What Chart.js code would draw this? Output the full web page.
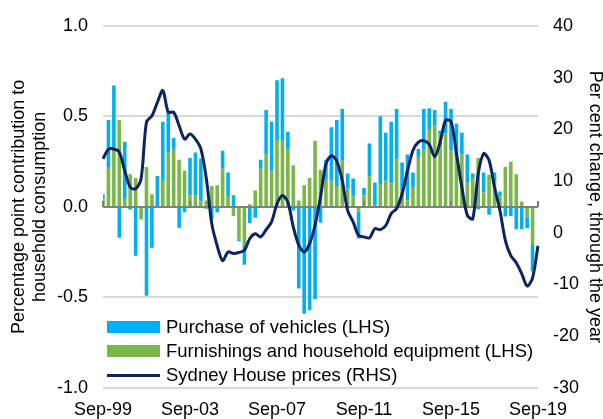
<!DOCTYPE html>
<html><head><meta charset="utf-8">
<script src="https://cdn.jsdelivr.net/npm/chart.js@4.4.1/dist/chart.umd.min.js"></script>
<style>
html,body{margin:0;padding:0;background:#fff;}
#wrap{position:relative;width:603px;height:419px;overflow:hidden;}
canvas{position:absolute;left:0;top:0;}
.leg{position:absolute;left:107px;height:24px;display:flex;align-items:center;font-family:"Liberation Sans",Arial,sans-serif;font-size:18.5px;color:#000;white-space:nowrap;}
.sw{width:53px;height:12px;margin-right:6px;flex:none;}
.ln{width:53px;height:3px;margin-right:6px;flex:none;}
</style></head><body>
<div id="wrap"><canvas id="c" width="603" height="419"></canvas>
<div class="leg" style="top:315px"><div class="sw" style="background:#00B0F0"></div>Purchase of vehicles (LHS)</div>
<div class="leg" style="top:339px"><div class="sw" style="background:#7AB648"></div>Furnishings and household equipment (LHS)</div>
<div class="leg" style="top:363px"><div class="ln" style="background:#0C2461"></div>Sydney House prices (RHS)</div>
</div>
<script>
const quarters = ['Sep-99','Dec-99',
'Mar-00','Jun-00','Sep-00','Dec-00','Mar-01','Jun-01','Sep-01','Dec-01',
'Mar-02','Jun-02','Sep-02','Dec-02','Mar-03','Jun-03','Sep-03','Dec-03',
'Mar-04','Jun-04','Sep-04','Dec-04','Mar-05','Jun-05','Sep-05','Dec-05',
'Mar-06','Jun-06','Sep-06','Dec-06','Mar-07','Jun-07','Sep-07','Dec-07',
'Mar-08','Jun-08','Sep-08','Dec-08','Mar-09','Jun-09','Sep-09','Dec-09',
'Mar-10','Jun-10','Sep-10','Dec-10','Mar-11','Jun-11','Sep-11','Dec-11',
'Mar-12','Jun-12','Sep-12','Dec-12','Mar-13','Jun-13','Sep-13','Dec-13',
'Mar-14','Jun-14','Sep-14','Dec-14','Mar-15','Jun-15','Sep-15','Dec-15',
'Mar-16','Jun-16','Sep-16','Dec-16','Mar-17','Jun-17','Sep-17','Dec-17',
'Mar-18','Jun-18','Sep-18','Dec-18','Mar-19','Jun-19','Sep-19'];

const xTickLabels = ['Sep-99','Sep-03','Sep-07','Sep-11','Sep-15','Sep-19'];
const leftTicks = [-1.0,-0.5,0.0,0.5,1.0];
const rightTicks = [-30,-20,-10,0,10,20,30,40];

const furnishings = [0.055,0.22,0.33,0.48,0.04,0.18,0.16,-0.07,0.22,0.07,
0.0,0.145,0.30,0.32,0.26,0.20,0.065,0.065,0.03,0.035,
0.115,0.12,0.21,0.06,-0.05,-0.18,-0.21,0.015,0.09,0.21,
0.29,0.20,0.37,0.365,0.315,0.23,0.035,0.12,0.16,0.365,
0.205,0.15,0.145,0.115,0.255,0.10,0.057,-0.025,0.065,0.17,
0.01,0.127,0.145,0.13,0.263,0.09,0.035,0.11,0.275,0.315,
0.43,0.45,0.40,0.405,0.31,0.27,0.29,0.13,0.16,0.27,
0.08,0.177,0.14,0.057,0.22,0.25,0.18,0.03,-0.053,-0.21,
null];

const vehicles = [0.015,0.26,0.34,-0.17,0.32,-0.015,-0.27,0,-0.49,-0.225,
0.17,0.325,0.22,0.06,-0.115,-0.03,0.205,0.235,0.237,-0.01,
-0.07,-0.03,0.10,0.13,0.065,-0.01,-0.11,-0.09,-0.06,0.05,
0.245,0.27,0.33,0.345,0.10,-0.02,-0.45,-0.59,-0.57,-0.51,
-0.087,0.11,0.295,0.365,0.285,0.085,0.10,-0.15,0.04,0.18,
0.125,0.373,0.265,0.34,0.277,0.155,0.255,0.08,0.045,0.225,
0.115,0.085,0.02,0.175,0.23,0.19,0.12,0.16,0.025,-0.013,
0.11,-0.044,0.05,0.028,-0.053,-0.05,-0.123,-0.123,-0.065,-0.147,
null];

const housePrices = [14.3,16.1,16.2,15.6,12.0,8.8,8.5,10.4,21.4,22.6,
25.2,27.5,23.3,23.3,20.7,18.1,19.1,18.1,16.2,10.5,
1.8,-2.5,-5.4,-3.7,-4.0,-3.8,-3.4,-1.1,-0.2,-0.8,
0.6,2.1,5.6,7.2,5.9,1.1,-2.4,-3.7,-2.1,1.5,
6.9,13.3,14.9,13.8,10.1,4.3,2.1,-0.5,-0.8,-1.0,
0.8,0.6,1.4,3.7,4.7,7.5,12.0,15.9,17.5,17.8,
17.1,14.7,17.5,21.7,21.5,15.3,8.8,3.4,2.7,11.4,
15.3,14.0,8.8,4.3,-1.5,-4.4,-5.8,-7.9,-10.3,-8.7,
-2.5];

const FONT = '"Liberation Sans", Arial, sans-serif';

const zeroAxis = {
  id: 'zeroAxis',
  afterDatasetDraw(chart, args) {
    if (args.index !== 0) return;
    const {ctx, chartArea} = chart;
    const x = chart.scales.x, y = chart.scales.y;
    const y0 = y.getPixelForValue(0);
    ctx.save();
    ctx.strokeStyle = '#7F7F7F';
    ctx.lineWidth = 2;
    ctx.beginPath();
    ctx.moveTo(chartArea.left, y0);
    ctx.lineTo(chartArea.right, y0);
    quarters.forEach((q, i) => {
      if (xTickLabels.includes(q)) {
        const px = x.getPixelForValue(i);
        ctx.moveTo(px, y0);
        ctx.lineTo(px, y0 - 6);
      }
    });
    ctx.stroke();
    ctx.restore();
  }
};

new Chart(document.getElementById('c'), {
  type: 'bar',
  data: {
    labels: quarters,
    datasets: [
      {label: 'Furnishings and household equipment (LHS)', data: furnishings, backgroundColor: '#7AB648', yAxisID: 'y', order: 1, barPercentage: 0.66, categoryPercentage: 1},
      {label: 'Purchase of vehicles (LHS)', data: vehicles, backgroundColor: '#00B0F0', yAxisID: 'y', order: 2, barPercentage: 0.66, categoryPercentage: 1},
      {type: 'line', label: 'Sydney House prices (RHS)', data: housePrices, borderColor: '#0C2461', borderWidth: 3, pointRadius: 0, tension: 0.3, yAxisID: 'y1', order: 0, fill: false}
    ]
  },
  options: {
    responsive: false, animation: false, devicePixelRatio: 1,
    layout: {padding: {top: 25, left: 0, right: 0, bottom: 0}},
    plugins: {legend: {display: false}, tooltip: {enabled: false}},
    scales: {
      x: {
        stacked: true, offset: false,
        grid: {display: false, offset: false},
        border: {display: false},
        ticks: {autoSkip: false, maxRotation: 0, minRotation: 0, padding: 3, color: '#000',
          font: {family: FONT, size: 18},
          callback: function(v, i) { const l = quarters[i]; return xTickLabels.includes(l) ? l : ''; }},
        afterFit(s) { s.height = 31; }
      },
      y: {
        position: 'left', stacked: true, min: -1, max: 1,
        afterBuildTicks(s) { s.ticks = leftTicks.map(v => ({value: v})); },
        grid: {drawTicks: false, lineWidth: 2, color: c => c.tick && c.tick.value === 0 ? 'rgba(0,0,0,0)' : '#D9D9D9'},
        border: {display: false},
        ticks: {padding: 15, color: '#000', font: {family: FONT, size: 18}, callback: v => v.toFixed(1)},
        title: {display: true, text: ['Percentage point contribution to', 'household consumption'], color: '#000',
          font: {family: FONT, size: 18, lineHeight: 1.2}, padding: {top: 8, bottom: 0}},
        afterFit(s) { s.width = 103; }
      },
      y1: {
        position: 'right', min: -30, max: 40,
        afterBuildTicks(s) { s.ticks = rightTicks.map(v => ({value: v})); },
        grid: {drawOnChartArea: false, drawTicks: false},
        border: {display: false},
        ticks: {padding: 15, color: '#000', font: {family: FONT, size: 18}},
        title: {display: true, text: 'Per cent change, through the year', color: '#000',
          font: {family: FONT, size: 18, lineHeight: 0.88}, padding: {top: 0, bottom: 0}},
        afterFit(s) { s.width = 65; }
      }
    }
  },
  plugins: [zeroAxis]
});
</script>
</body></html>
